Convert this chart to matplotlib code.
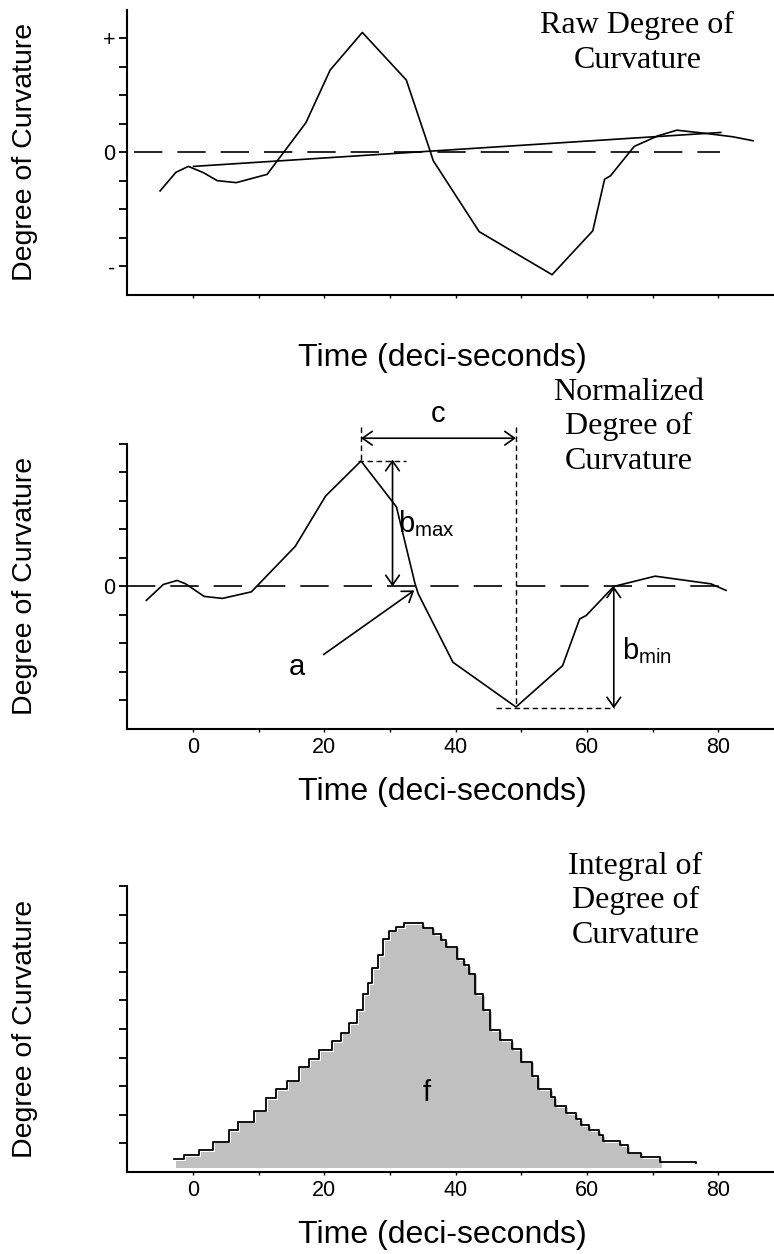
import matplotlib
matplotlib.use("Agg")
import matplotlib.pyplot as plt
import numpy as np

plt.rcParams['font.family'] = ['Liberation Sans', 'DejaVu Sans']

# raw degree of curvature (time in deci-seconds, arbitrary units)
raw_t = [-5.0, -2.6, -0.7, 1.6, 3.7, 6.6, 11.3, 17.2, 20.9, 25.8, 32.5, 36.2, 36.6,
         43.6, 54.7, 60.9, 62.7, 63.6, 67.2, 70.8, 73.7, 78.0, 82.2, 85.3]
raw_v = [-1.35, -0.70, -0.49, -0.71, -0.99, -1.06, -0.77, 1.04, 2.89, 4.21, 2.54, 0.0, -0.29,
         -2.78, -4.29, -2.75, -0.94, -0.82, 0.21, 0.58, 0.78, 0.67, 0.55, 0.41]
trend_t = [0.1, 80.4]
trend_v = [-0.49, 0.70]

# normalized degree of curvature
norm_t = [-7.1, -4.5, -2.4, -1.1, 1.7, 4.5, 8.9, 15.6, 20.2, 25.6, 31.0, 33.8, 34.3,
          39.6, 49.2, 56.3, 58.9, 59.9, 64.1, 70.4, 78.9, 81.2]
norm_v = [-0.49, 0.07, 0.21, 0.09, -0.35, -0.42, -0.19, 1.41, 3.17, 4.40, 2.79, 0.12, -0.25,
          -2.66, -4.23, -2.78, -1.14, -1.02, 0.0, 0.36, 0.09, -0.14]

# integral of degree of curvature (step outline)
int_t = [-2.9, -1.4, 1.0, 3.0, 5.5, 6.9, 9.3, 11.2, 12.7, 14.3, 16.1, 17.7, 19.2, 21.2,
         22.5, 23.8, 25.0, 25.9, 26.7, 27.3, 28.2, 29.0, 29.8, 31.0, 32.2, 33.9, 35.0,
         36.5, 37.8, 38.6, 40.2, 41.3, 42.0, 42.9, 44.2, 45.2, 46.8, 48.6, 49.9, 51.6,
         52.5, 54.5, 55.2, 56.8, 58.4, 59.1, 60.4, 61.8, 62.5, 65.0, 66.3, 68.2, 71.2, 76.6]
int_v = [0.44, 0.60, 0.77, 1.06, 1.47, 1.76, 2.14, 2.58, 2.89, 3.19, 3.68, 3.95, 4.27, 4.58,
         4.87, 5.20, 5.66, 6.23, 6.60, 7.12, 7.59, 8.13, 8.44, 8.55, 8.69, 8.69, 8.54,
         8.31, 8.11, 7.88, 7.44, 7.24, 6.93, 6.22, 5.65, 4.97, 4.62, 4.29, 3.86, 3.34,
         2.89, 2.62, 2.31, 2.06, 1.85, 1.63, 1.47, 1.30, 1.07, 0.95, 0.68, 0.51, 0.36, 0.30]

x_ticks = list(range(0, 81, 10))
x_labels = ['0', '', '20', '', '40', '', '60', '', '80']

t_peak, v_peak = 25.6, 4.40
t_min, v_min = 49.2, -4.23
t_cross = 64.1

serif = 'Liberation Serif'
xlab_fs = 23
ylab_fs = 20.5
title_fs = 23
letter_fs = 21
tick_fs = 15.5

fig = plt.figure(figsize=(7.74, 12.54), dpi=100)
ax1 = fig.add_axes([0.164, 0.7648, 0.836, 0.2273])
ax2 = fig.add_axes([0.164, 0.4187, 0.836, 0.2273])
ax3 = fig.add_axes([0.164, 0.0654, 0.836, 0.2281])

for ax in (ax1, ax2, ax3):
    ax.spines['top'].set_visible(False)
    ax.spines['right'].set_visible(False)
    ax.spines['left'].set_linewidth(1.5)
    ax.spines['bottom'].set_linewidth(1.5)
    ax.set_xlim(-10.05, 88.5)
    ax.set_xticks(x_ticks)
    ax.tick_params(axis='y', length=5.5, width=1.3, labelsize=tick_fs, pad=3)
    ax.tick_params(axis='x', length=2.5, width=1.0, labelsize=tick_fs, pad=3)
    ax.set_ylabel('Degree of Curvature', fontsize=ylab_fs)
    ax.yaxis.set_label_coords(-0.158, 0.5)
    ax.yaxis.label.set_va('center')
    ax.set_xlabel('Time (deci-seconds)', fontsize=xlab_fs)
    ax.xaxis.set_label_coords(0.487, -0.222)
    ax.xaxis.label.set_va('center')

zero_dash = (0, (17, 9))

# --- raw
ax1.set_ylim(-5, 5)
ax1.set_yticks(range(-4, 5))
ax1.set_yticklabels(['-', '', '', '', '0', '', '', '', '+'])
ax1.set_xticklabels([''] * len(x_ticks))
ax1.plot([-8.9, 80.3], [0, 0], color='black', lw=1.2, ls=zero_dash)
ax1.plot(raw_t, raw_v, color='black', lw=1.2)
ax1.plot(trend_t, trend_v, color='black', lw=1.2)
ax1.text(67.7, 3.83, 'Raw Degree of\nCurvature', ha='center', va='center',
         fontsize=title_fs, family=serif, linespacing=1.26)

# --- normalized
ax2.set_ylim(-5, 5)
ax2.set_yticks(range(-4, 6))
ax2.set_yticklabels(['', '', '', '', '0', '', '', '', '', ''])
ax2.set_xticklabels(x_labels)
ax2.plot([-10, 81], [0, 0], color='black', lw=1.2, ls=zero_dash)
ax2.plot(norm_t, norm_v, color='black', lw=1.2)

short_dash = (0, (4, 2.5))
ax2.plot([t_peak, t_peak], [5.6, v_peak], color='black', lw=1, ls=short_dash, clip_on=False)
ax2.plot([t_min, t_min], [5.6, v_min], color='black', lw=1, ls=short_dash, clip_on=False)
ax2.plot([t_peak - 0.5, 32.4], [v_peak, v_peak], color='black', lw=1, ls=short_dash)
ax2.plot([46.2, t_cross], [v_min - 0.05, v_min - 0.05], color='black', lw=1, ls=short_dash)

arrow = dict(arrowstyle='<->,head_length=0.5,head_width=0.35', color='black', lw=1.2,
             mutation_scale=14, shrinkA=0, shrinkB=0)
ax2.annotate('', xy=(t_min, 5.2), xytext=(t_peak, 5.2), arrowprops=arrow, annotation_clip=False)
ax2.text((t_peak + t_min) / 2, 6.05, 'c', ha='center', va='center', fontsize=letter_fs)

ax2.annotate('', xy=(30.4, 0), xytext=(30.4, v_peak + 0.05), arrowprops=arrow)
ax2.text(31.3, 2.2, r'b$_{\mathregular{max}}$', ha='left', va='center', fontsize=letter_fs)

ax2.annotate('', xy=(t_cross, 0), xytext=(t_cross, v_min - 0.05), arrowprops=arrow)
ax2.text(65.4, -2.25, r'b$_{\mathregular{min}}$', ha='left', va='center', fontsize=letter_fs)

single = dict(arrowstyle='->,head_length=0.5,head_width=0.35', color='black', lw=1.2,
              mutation_scale=14, shrinkA=0, shrinkB=0)
ax2.annotate('', xy=(33.7, -0.14), xytext=(19.9, -2.39), arrowprops=single)
ax2.text(15.9, -2.84, 'a', ha='center', va='center', fontsize=letter_fs)

ax2.text(66.4, 5.6, 'Normalized\nDegree of\nCurvature', ha='center', va='center',
         fontsize=title_fs, family=serif, linespacing=1.26)

# --- integral
ax3.set_ylim(0, 10)
ax3.set_yticks(range(1, 11))
ax3.set_yticklabels([''] * 10)
ax3.set_xticklabels(x_labels)
fill_t = np.array(int_t[:-1])
fill_v = np.array(int_v[:-1])
ax3.fill_between(fill_t + 0.3, 0.15, fill_v - 0.06, step='post', color='#c0c0c0', lw=0)
ax3.step(int_t, int_v, where='post', color='black', lw=1.3)
ax3.text(35.6, 2.76, 'f', ha='center', va='center', fontsize=letter_fs)
ax3.text(67.4, 9.48, 'Integral of\nDegree of\nCurvature', ha='center', va='center',
         fontsize=title_fs, family=serif, linespacing=1.26)

fig.savefig('out.png', dpi=100)
